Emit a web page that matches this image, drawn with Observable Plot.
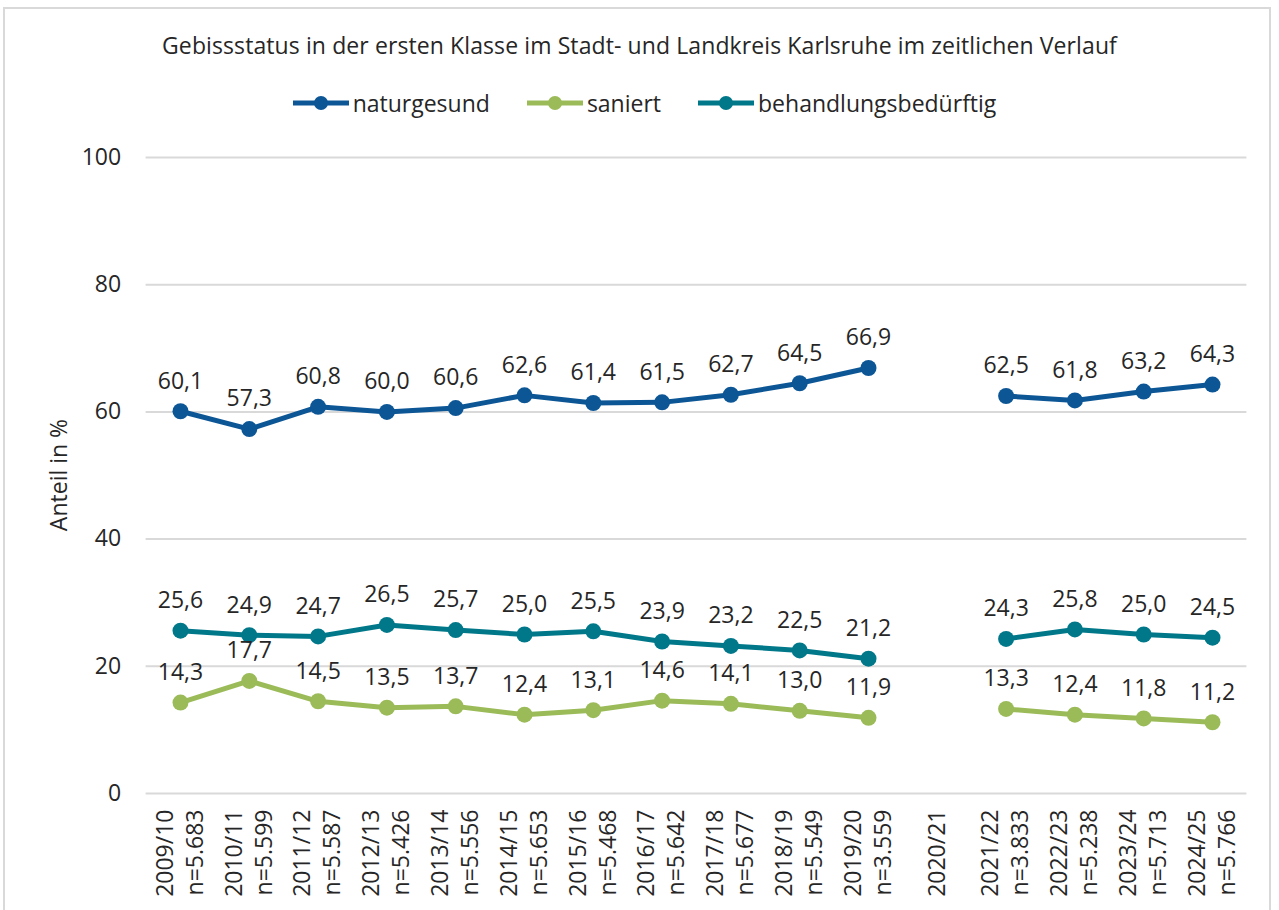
<!DOCTYPE html>
<html>
<head>
<meta charset="utf-8">
<script src="https://cdn.jsdelivr.net/npm/d3@7"></script>
<script src="https://cdn.jsdelivr.net/npm/@observablehq/plot@0.6"></script>
<style>
  html, body { margin: 0; padding: 0; background: #fff; }
  #frame { position: relative; width: 1279px; height: 910px; overflow: hidden; font-family: "Open Sans", sans-serif; color: #262626; }
  #border { position: absolute; left: 3px; top: 7px; width: 1268px; height: 920px; border: 2px solid #d9d9d9; box-sizing: border-box; }
  #title { position: absolute; left: 0; width: 1279px; top: 30px; text-align: center; font-size: 23px; line-height: 30px; letter-spacing: 0.1px; }
  #legend { position: absolute; left: 5px; width: 1279px; top: 88px; display: flex; justify-content: center; gap: 37px; font-size: 23px; line-height: 30px; }
  .item { display: flex; align-items: center; gap: 4px; }
  #ylabel { position: absolute; left: 58px; top: 475px; transform: translate(-50%, -50%) rotate(-90deg); font-size: 23px; white-space: nowrap; }
  #chart { position: absolute; left: 0; top: 130px; }
</style>
</head>
<body>
<div id="frame">
  <div id="border"></div>
  <div id="title">Gebissstatus in der ersten Klasse im Stadt- und Landkreis Karlsruhe im zeitlichen Verlauf</div>
  <div id="legend"></div>
  <div id="ylabel">Anteil in %</div>
  <div id="chart"></div>
</div>
<script>
const years = ["2009/10","2010/11","2011/12","2012/13","2013/14","2014/15","2015/16","2016/17","2017/18","2018/19","2019/20","2020/21","2021/22","2022/23","2023/24","2024/25"];
const nCounts = ["5.683","5.599","5.587","5.426","5.556","5.653","5.468","5.642","5.677","5.549","3.559","","3.833","5.238","5.713","5.766"];
const naturgesund = [60.1,57.3,60.8,60.0,60.6,62.6,61.4,61.5,62.7,64.5,66.9,null,62.5,61.8,63.2,64.3];
const saniert = [14.3,17.7,14.5,13.5,13.7,12.4,13.1,14.6,14.1,13.0,11.9,null,13.3,12.4,11.8,11.2];
const behandlungsbeduerftig = [25.6,24.9,24.7,26.5,25.7,25.0,25.5,23.9,23.2,22.5,21.2,null,24.3,25.8,25.0,24.5];
const seriesNames = ["naturgesund","saniert","behandlungsbedürftig"];
const seriesColors = ["#0C5696","#9BBB59","#00788A"];
const yTicks = [0,20,40,60,80,100];

const seriesValues = [naturgesund, saniert, behandlungsbeduerftig];
const data = seriesNames.flatMap((name, s) => years.map((year, i) => ({series: name, year, value: seriesValues[s][i]})));
const xLabels = years.map((year, i) => ({year, n: nCounts[i] ? `n=${nCounts[i]}` : null}));
const withN = xLabels.filter(d => d.n);
const withoutN = xLabels.filter(d => !d.n);

// legend
const legend = document.getElementById("legend");
seriesNames.forEach((name, i) => {
  const item = document.createElement("div");
  item.className = "item";
  item.innerHTML = `<svg width="56" height="20"><line x1="0" x2="56" y1="10" y2="10" stroke="${seriesColors[i]}" stroke-width="5"/><circle cx="28" cy="10" r="7" fill="${seriesColors[i]}"/></svg><span>${name}</span>`;
  legend.appendChild(item);
});

const fmt = v => v == null ? null : v.toFixed(1).replace(".", ",");
const labelStyle = {x: "year", frameAnchor: "bottom", rotate: -90, textAnchor: "end", lineAnchor: "middle", dy: 16, fontSize: 23, fill: "#262626"};

const chart = Plot.plot({
  width: 1279,
  height: 780,
  marginTop: 27,
  marginBottom: 117,
  marginLeft: 145.6,
  marginRight: 32.6,
  style: {fontFamily: "Open Sans", fontSize: "23px", color: "#262626", background: "transparent", overflow: "visible"},
  x: {type: "point", domain: years, padding: 0.5, round: false, axis: null},
  y: {domain: [0, 100]},
  color: {domain: seriesNames, range: seriesColors},
  marks: [
    Plot.gridY(yTicks, {stroke: "#d9d9d9", strokeWidth: 2, strokeOpacity: 1}),
    Plot.axisY(yTicks, {tickSize: 0, tickPadding: 25, label: null, fontSize: 23, fill: "#262626"}),
    // x tick labels: year line and sample-size line, rotated
    Plot.text(withN, {...labelStyle, text: "year", dx: -15}),
    Plot.text(withN, {...labelStyle, text: "n", dx: 15}),
    Plot.text(withoutN, {...labelStyle, text: "year", dx: 0}),
    Plot.line(data, {x: "year", y: "value", z: "series", stroke: "series", strokeWidth: 5}),
    Plot.dot(data, {x: "year", y: "value", fill: "series", r: 8}),
    Plot.text(data, {x: "year", y: "value", text: d => fmt(d.value), dy: -30, fontSize: 23, fill: "#262626"})
  ]
});
document.getElementById("chart").appendChild(chart);
</script>
</body>
</html>
